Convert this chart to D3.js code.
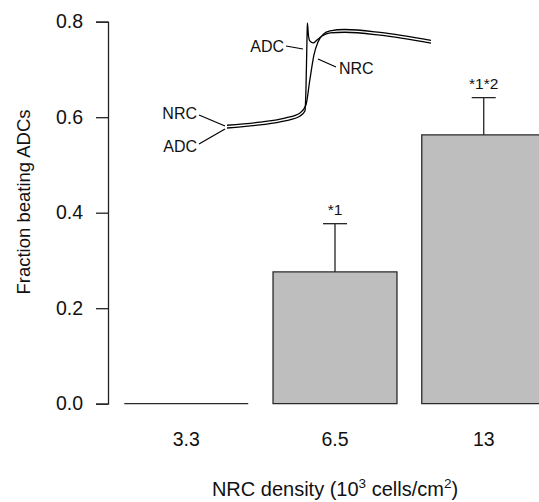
<!DOCTYPE html>
<html>
<head>
<meta charset="utf-8">
<script src="https://cdn.jsdelivr.net/npm/d3@7"></script>
<style>
  body { margin: 0; background: #fff; }
  svg { display: block; font-family: "Liberation Sans", Arial, Helvetica, sans-serif; }
</style>
</head>
<body>
<script>
// bar data
let densities = ["3.3", "6.5", "13"]
let fractions = [0.0, 0.276, 0.563]
let errTops = [0.0, 0.377, 0.641]
let sigLabels = ["", "*1", "*1*2"]
let yTicks = [0.0, 0.2, 0.4, 0.6, 0.8]

// inset traces (arbitrary units, time 0-100, voltage 0-100)
let adcT = [0, 16.2, 28.4, 35.8, 38.2, 38.7, 39.2, 39.4, 39.9, 40.6, 42.2, 44.1, 46.6, 50.5, 57.8, 75, 100]
let adcV = [0, 2.9, 6.7, 11.4, 16.2, 36.2, 83.8, 100, 88.6, 82.9, 81, 83.8, 87.6, 90.5, 91.2, 88.4, 80.8]
let nrcT = [0, 16.2, 28.4, 35.8, 38.7, 40.6, 42.6, 44.6, 47.1, 50.5, 57.8, 75, 100]
let nrcV = [2.6, 5.6, 9.4, 14.3, 21.9, 45.7, 69.5, 81.9, 89.2, 92.6, 93.8, 91.0, 83.4]

let W = 539, H = 502

let svg = d3.select("body").append("svg")
            .attr("width", W)
            .attr("height", H)

let x = d3.scaleBand()
          .domain(densities)
          .range([124.3, 545.7])
          .paddingInner(1/6)
          .paddingOuter(0)

let y = d3.scaleLinear()
          .domain([0, 0.8])
          .range([403.7, 21.7])

// y axis
let yAxis = svg.append("g")
               .attr("transform", "translate(108,0)")
               .call(d3.axisLeft(y).tickValues(yTicks).tickFormat(d3.format(".1f")).tickSize(12).tickPadding(13))
yAxis.select(".domain").attr("stroke", "#222").attr("stroke-width", 1.3)
yAxis.selectAll(".tick line").attr("stroke", "#222").attr("stroke-width", 1.3)
yAxis.selectAll(".tick text")
     .attr("font-size", 19.5)
     .attr("font-family", "'Liberation Sans', Arial, sans-serif")
     .attr("fill", "#111")

// bars drawn as paths so a zero-height bar still shows its outline
svg.selectAll(".bar")
   .data(densities)
   .enter()
   .append("path")
   .attr("class", "bar")
   .attr("d", (d, i) => {
       let x0 = x(d), x1 = x(d) + x.bandwidth()
       return "M" + x0 + "," + y(0) + "H" + x1 + "V" + y(fractions[i]) + "H" + x0 + "Z"
   })
   .attr("fill", "#bebebe")
   .attr("stroke", "#2a2a2a")
   .attr("stroke-width", 1.3)

// error bars (upper only)
let errs = svg.selectAll(".err")
              .data(densities.filter((d, i) => errTops[i] > fractions[i]))
              .enter()
              .append("g")
              .attr("class", "err")
errs.append("line")
    .attr("x1", d => x(d) + x.bandwidth() / 2)
    .attr("x2", d => x(d) + x.bandwidth() / 2)
    .attr("y1", d => y(fractions[densities.indexOf(d)]))
    .attr("y2", d => y(errTops[densities.indexOf(d)]))
    .attr("stroke", "#222").attr("stroke-width", 1.3)
errs.append("line")
    .attr("x1", d => x(d) + x.bandwidth() / 2 - 12)
    .attr("x2", d => x(d) + x.bandwidth() / 2 + 12)
    .attr("y1", d => y(errTops[densities.indexOf(d)]))
    .attr("y2", d => y(errTops[densities.indexOf(d)]))
    .attr("stroke", "#222").attr("stroke-width", 1.3)
errs.append("text")
    .attr("x", d => x(d) + x.bandwidth() / 2)
    .attr("y", d => y(errTops[densities.indexOf(d)]) - 9)
    .attr("text-anchor", "middle")
    .attr("font-size", 15.5)
    .attr("fill", "#111")
    .text(d => sigLabels[densities.indexOf(d)])

// x category labels
svg.selectAll(".xlab")
   .data(densities)
   .enter()
   .append("text")
   .attr("class", "xlab")
   .attr("x", d => x(d) + x.bandwidth() / 2)
   .attr("y", 446)
   .attr("text-anchor", "middle")
   .attr("font-size", 19.5)
   .attr("fill", "#111")
   .text(d => d)

// axis titles
let xt = svg.append("text")
            .attr("x", 335)
            .attr("y", 496)
            .attr("text-anchor", "middle")
            .attr("font-size", 20)
            .attr("fill", "#111")
xt.append("tspan").text("NRC density (10")
xt.append("tspan").attr("dy", -8).attr("font-size", 13.5).text("3")
xt.append("tspan").attr("dy", 8).text(" cells/cm")
xt.append("tspan").attr("dy", -8).attr("font-size", 13.5).text("2")
xt.append("tspan").attr("dy", 8).text(")")

svg.append("text")
   .attr("transform", "translate(30,202) rotate(-90)")
   .attr("text-anchor", "middle")
   .attr("font-size", 18.5)
   .attr("fill", "#111")
   .text("Fraction beating ADCs")

// inset: action potential traces
let xIn = d3.scaleLinear().domain([0, 100]).range([227, 431])
let yIn = d3.scaleLinear().domain([0, 100]).range([128, 23])

let trace = d3.line()
              .x(d => xIn(d[0]))
              .y(d => yIn(d[1]))
              .curve(d3.curveMonotoneX)

let inset = svg.append("g").attr("class", "inset")
inset.append("path")
     .datum(d3.zip(adcT, adcV))
     .attr("d", trace)
     .attr("fill", "none").attr("stroke", "#000").attr("stroke-width", 1.3)
inset.append("path")
     .datum(d3.zip(nrcT, nrcV))
     .attr("d", trace)
     .attr("fill", "none").attr("stroke", "#000").attr("stroke-width", 1.3)

// inset labels with leader lines
let notes = [
    {t: "NRC", tx: 197, ty: 119, anchor: "end", lx1: 199, ly1: 115, lx2: 225, ly2: 126},
    {t: "ADC", tx: 197, ty: 152, anchor: "end", lx1: 199, ly1: 144, lx2: 225, ly2: 129},
    {t: "ADC", tx: 284, ty: 52, anchor: "end", lx1: 286, ly1: 46, lx2: 303, ly2: 49},
    {t: "NRC", tx: 339, ty: 74, anchor: "start", lx1: 318, ly1: 59, lx2: 336, ly2: 67}
]
inset.selectAll(".lead")
     .data(notes)
     .enter()
     .append("line")
     .attr("x1", d => d.lx1).attr("y1", d => d.ly1)
     .attr("x2", d => d.lx2).attr("y2", d => d.ly2)
     .attr("stroke", "#000").attr("stroke-width", 1.2)
inset.selectAll(".note")
     .data(notes)
     .enter()
     .append("text")
     .attr("x", d => d.tx).attr("y", d => d.ty)
     .attr("text-anchor", d => d.anchor)
     .attr("font-size", 16)
     .attr("fill", "#111")
     .text(d => d.t)
</script>
</body>
</html>
